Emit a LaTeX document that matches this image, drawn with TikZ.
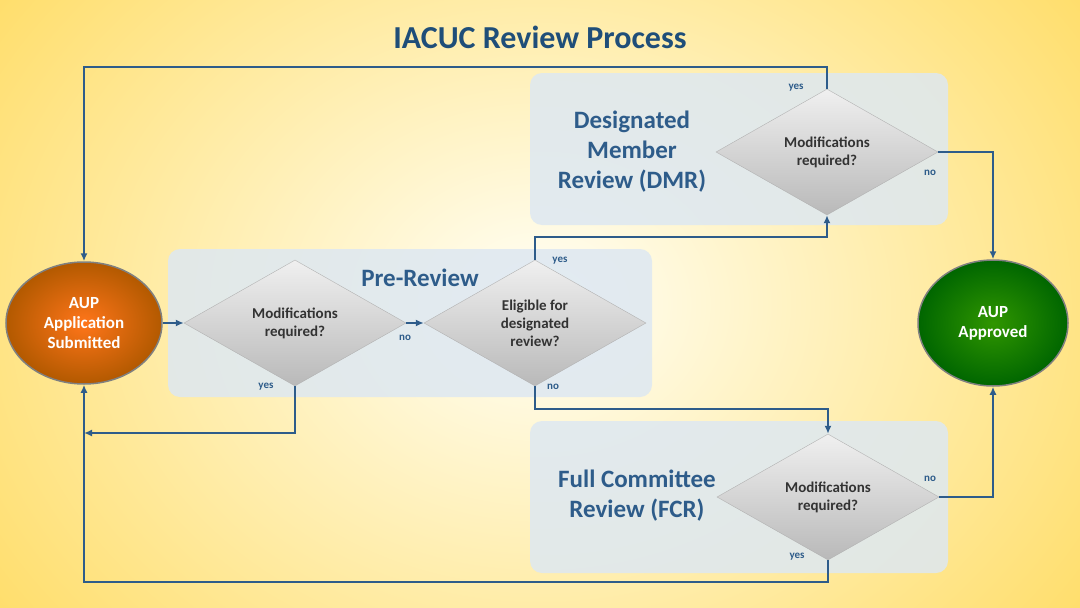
\documentclass[tikz,border=0pt]{standalone}
\usepackage{fontspec}
\setmainfont{Carlito}
\usetikzlibrary{shapes.geometric,arrows.meta}
\definecolor{navy}{HTML}{1F4E79}
\definecolor{flow}{HTML}{2E5C8A}
\definecolor{pale}{HTML}{DDE8F2}
\tikzstyle{panel} = [rounded corners=12pt, fill=pale, fill opacity=0.85, draw=none]
\tikzstyle{decision} = [diamond, minimum width=222pt, minimum height=126pt, inner sep=0pt, top color=gray!12, bottom color=gray!55, draw=gray!60, text=black!80, font=\fontsize{15}{18}\selectfont\bfseries, align=center]
\tikzstyle{terminal} = [ellipse, draw=black!50, line width=1.5pt, text=white, font=\fontsize{17}{20}\selectfont\bfseries, align=center]
\tikzstyle{heading} = [text=flow, font=\fontsize{25}{30}\selectfont\bfseries, align=center]
\tikzstyle{tag} = [text=flow, font=\fontsize{11}{12}\selectfont\bfseries]
\tikzstyle{arrow} = [flow, line width=1.8pt, -{Latex[length=8pt,width=7pt]}]

\begin{document}
\begin{tikzpicture}[x=1pt, y=-1pt]
	\useasboundingbox (0,0) rectangle (1080,608);
	\shade[inner color=yellow!3, outer color=yellow!55!orange!60] (-150,-250) rectangle (1230,858);
	% Panels
	\fill [panel] (530,73) rectangle (948,225);
	\fill [panel] (168,249) rectangle (652,397);
	\fill [panel] (530,421) rectangle (948,573);
	% Place nodes
	\node [text=navy, font=\fontsize{32}{36}\selectfont\bfseries] (title) at (540,37) {IACUC Review Process};
	\node [heading] (dmrlabel) at (632,152) {Designated\\Member\\Review (DMR)};
	\node [heading] (prelabel) at (420,278) {Pre-Review};
	\node [heading] (fcrlabel) at (637,496) {Full Committee\\Review (FCR)};
	\node [terminal, minimum width=156pt, minimum height=122pt, inner color=orange!80!red!90, outer color=orange!70!black] (submitted) at (84,323) {AUP\\Application\\Submitted};
	\node [terminal, minimum width=150pt, minimum height=126pt, inner color=green!45!black!75!lime, outer color=green!40!black] (approved) at (993,323) {AUP\\Approved};
	\node [decision] (premod) at (295,323) {Modifications\\required?};
	\node [decision] (eligible) at (535,323) {Eligible for\\designated\\review?};
	\node [decision] (dmrmod) at (827,152) {Modifications\\required?};
	\node [decision] (fcrmod) at (828,497) {Modifications\\required?};
	\coordinate (backloop) at (84,433);
	% Draw edges
	\draw [arrow] (submitted) -- (premod);
	\draw [arrow] (premod) -- (eligible);
	\draw [arrow] (premod.south) |- (backloop);
	\draw [arrow] (eligible.north) |- (681,237) -| (dmrmod.south);
	\draw [arrow] (eligible.south) |- (681,409) -| (fcrmod.north);
	\draw [arrow] (dmrmod.north) |- (400,67) -| (submitted.north);
	\draw [arrow] (dmrmod.east) -| (approved.north);
	\draw [arrow] (fcrmod.east) -| (approved.south);
	\draw [arrow] (fcrmod.south) |- (400,582) -| (submitted.south);
	% Labels
	\node [tag] (t1) at (796,88) {yes};
	\node [tag] (t2) at (930,173) {no};
	\node [tag] (t3) at (405,338) {no};
	\node [tag] (t4) at (266,387) {yes};
	\node [tag] (t5) at (560,261) {yes};
	\node [tag] (t6) at (553,387) {no};
	\node [tag] (t7) at (930,479) {no};
	\node [tag] (t8) at (797,557) {yes};
\end{tikzpicture}
\end{document}
